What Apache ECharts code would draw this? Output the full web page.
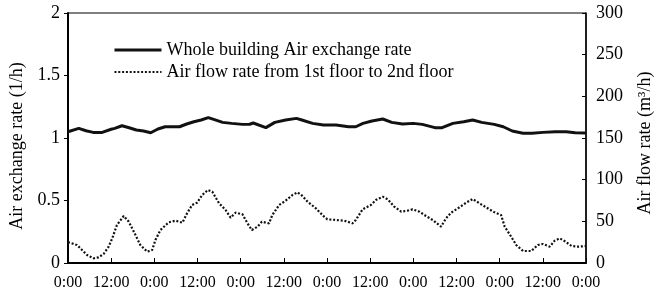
<!DOCTYPE html>
<html>
<head>
<meta charset="utf-8">
<script src="https://cdn.jsdelivr.net/npm/echarts@6/dist/echarts.min.js"></script>
<style>
html,body{margin:0;padding:0;background:#fff;}
#chart{width:662px;height:293px;}
</style>
</head>
<body>
<div id="chart"></div>
<script>
// Hours from start (0 .. 144 h = 6 days)
const xTickLabels = ['0:00', '12:00'];
const seriesNames = ['Whole building Air exchange rate', 'Air flow rate from 1st floor to 2nd floor'];

// Whole building air exchange rate (1/h), left axis
const hoursA = [0, 3, 5, 7, 9.5, 12, 13, 15, 17, 19, 21, 23, 25, 27, 29.5, 31, 33, 35, 37, 39, 40.5, 43, 45.5, 48.5, 50.5, 51.5, 55, 57.5, 60.5, 63.5, 65, 68, 71, 74.5, 78, 80, 82, 84.5, 87.5, 90, 93, 96, 98.5, 102, 104, 107, 110, 112.5, 115, 118.5, 121, 123.5, 126.5, 129, 132, 135.5, 138.5, 141, 144];
const airExchange = [1.05, 1.077, 1.058, 1.045, 1.045, 1.07, 1.077, 1.098, 1.082, 1.064, 1.056, 1.042, 1.072, 1.09, 1.09, 1.09, 1.112, 1.13, 1.144, 1.163, 1.149, 1.125, 1.117, 1.109, 1.11, 1.12, 1.083, 1.125, 1.144, 1.157, 1.144, 1.117, 1.104, 1.104, 1.09, 1.09, 1.117, 1.136, 1.152, 1.125, 1.112, 1.117, 1.109, 1.083, 1.083, 1.117, 1.13, 1.144, 1.125, 1.109, 1.09, 1.056, 1.038, 1.038, 1.045, 1.05, 1.05, 1.042, 1.04];

// Air flow rate 1st -> 2nd floor (m3/h), right axis
const hoursB = [0, 2.5, 3.9, 5.3, 7.1, 8.5, 9.9, 11.3, 12.3, 13.6, 15.5, 16.9, 18.3, 20.1, 22, 23.4, 24.3, 25.7, 28, 29.9, 31.8, 33.1, 34.5, 35.9, 37.3, 38.9, 40.1, 42, 43.8, 45.2, 46.6, 48.5, 49.9, 51.1, 52.7, 53.9, 55.9, 56.8, 58.7, 60.5, 62.4, 63.8, 65.2, 66.6, 68.9, 71.2, 72.1, 74.5, 76.8, 79.1, 80, 81.9, 84.2, 85.6, 87.5, 88.9, 90.7, 92.6, 94.4, 95.8, 97.7, 99.5, 101.4, 103.7, 105.1, 106.5, 108.4, 110.7, 112.5, 114.4, 116.2, 118.6, 120.4, 121.4, 123.2, 124.6, 126.5, 128.8, 130.6, 132, 133.9, 135.3, 136.7, 138, 140, 141.9, 144];
const airFlow = [25, 21.6, 15.6, 9.6, 5.6, 6.8, 10.8, 19.6, 29.6, 45.6, 56.4, 49.6, 37.6, 21.6, 13.6, 15.6, 27.6, 39.6, 48.8, 50.8, 48.4, 59.6, 69.6, 72.4, 81.6, 87.6, 85.6, 71.6, 63.6, 54.4, 60.4, 58.4, 47.6, 39.6, 43.6, 49.6, 47.6, 57.6, 69.6, 74.8, 81.6, 84.8, 80.4, 73.6, 65.6, 55.6, 52.4, 51.6, 50.8, 47.6, 51.6, 64.4, 69.6, 75.6, 79.6, 76.4, 67.6, 61.6, 62.8, 64.4, 61.6, 56.4, 51.6, 43.6, 53.6, 60.4, 65.6, 72.4, 76.8, 71.6, 66.8, 60.8, 57.6, 43.6, 31.6, 21.6, 14.4, 14.4, 21.6, 22.8, 19.6, 26.8, 29.6, 26.4, 20.4, 19.6, 20.4];

const leftTicks = [0, 0.5, 1, 1.5, 2];
const rightTicks = [0, 50, 100, 150, 200, 250, 300];

const FONT = 'Liberation Serif';
const chart = echarts.init(document.getElementById('chart'), null, {renderer: 'canvas'});
chart.setOption({
  animation: false,
  backgroundColor: '#fff',
  textStyle: {fontFamily: FONT, color: '#000'},
  grid: {left: 68, right: 75, top: 13, bottom: 30, show: true, borderColor: '#000', borderWidth: 1},
  legend: {
    orient: 'vertical', left: 108, top: 36, itemWidth: 47, itemHeight: 14, itemGap: 4,
    itemStyle: {opacity: 0},
    textStyle: {fontFamily: FONT, fontSize: 18, color: '#000'},
    data: [
      {name: seriesNames[0], lineStyle: {width: 3, color: '#111'}},
      {name: seriesNames[1], lineStyle: {width: 2.2, color: '#111', type: [2, 1.8]}}
    ]
  },
  xAxis: {
    type: 'value', min: 0, max: 144, interval: 12,
    axisLine: {lineStyle: {color: '#000', width: 2}},
    axisTick: {inside: true, length: 5, lineStyle: {color: '#000', width: 1}},
    axisLabel: {fontFamily: FONT, fontSize: 16, color: '#000', margin: 12,
      formatter: v => xTickLabels[(v % 24 === 0) ? 0 : 1]},
    splitLine: {show: false}
  },
  yAxis: [{
    type: 'value', min: leftTicks[0], max: leftTicks[leftTicks.length - 1], interval: 0.5,
    name: 'Air exchange rate (1/h)', nameLocation: 'middle', nameGap: 36, nameRotate: 90,
    nameTextStyle: {fontFamily: FONT, fontSize: 18, color: '#000', padding: [0, 16, 0, 0]},
    axisLine: {show: true, lineStyle: {color: '#000', width: 2}},
    axisTick: {show: true, inside: false, length: 4, lineStyle: {color: '#000'}},
    axisLabel: {fontFamily: FONT, fontSize: 18, color: '#000', margin: 8},
    splitLine: {show: false}
  }, {
    type: 'value', position: 'right', min: rightTicks[0], max: rightTicks[rightTicks.length - 1], interval: 50,
    name: 'Air flow rate (m³/h)', nameLocation: 'middle', nameGap: 50, nameRotate: 90,
    nameTextStyle: {fontFamily: FONT, fontSize: 18, color: '#000', padding: [0, 10, 0, 0]},
    axisLine: {show: true, lineStyle: {color: '#000', width: 1.5}},
    axisTick: {show: true, inside: true, length: 4, lineStyle: {color: '#000'}},
    axisLabel: {fontFamily: FONT, fontSize: 18, color: '#000', margin: 10},
    splitLine: {show: false}
  }],
  series: [{
    name: seriesNames[0], type: 'line', yAxisIndex: 0, symbol: 'none',
    lineStyle: {color: '#111', width: 3},
    itemStyle: {color: '#111'},
    data: hoursA.map((h, i) => [h, airExchange[i]])
  }, {
    name: seriesNames[1], type: 'line', yAxisIndex: 1, symbol: 'none',
    lineStyle: {color: '#111', width: 2.2, type: [2, 1.8]},
    itemStyle: {color: '#111'},
    data: hoursB.map((h, i) => [h, airFlow[i]])
  }]
});
</script>
</body>
</html>
